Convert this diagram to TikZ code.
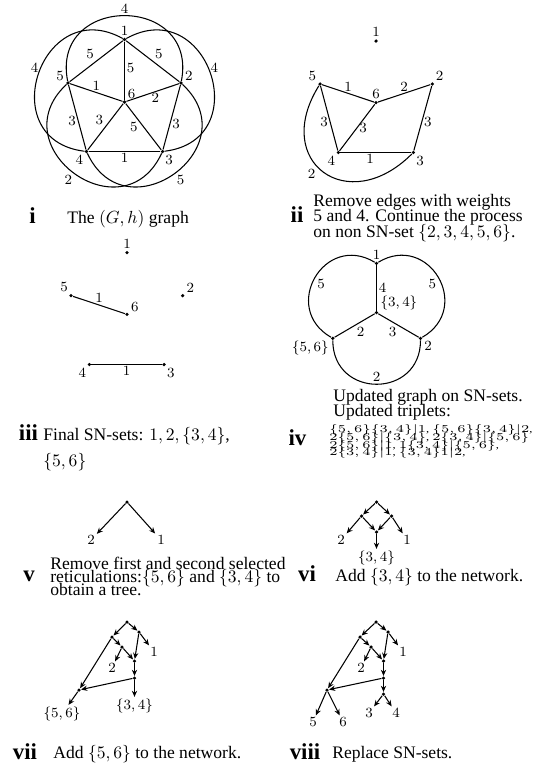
\documentclass[tikz,border=0pt]{standalone}
\usepackage[no-math]{fontspec}
\setmainfont{Liberation Serif}
\usetikzlibrary{arrows.meta}
\newcommand{\capfont}[1]{\fontsize{10}{#1}\selectfont\lineskiplimit=-20pt\relax}

\begin{document}
\begin{tikzpicture}[
x=0.02cm, y=0.02cm,
vtx/.style={circle, fill, inner sep=0pt, minimum size=2pt},
lbl/.style={font=\fontsize{8}{9}\selectfont, inner sep=1pt},
leaf/.style={font=\fontsize{8}{9}\selectfont, inner sep=1pt},
edge/.style={line width=0.6pt},
arr/.style={-{Stealth[length=3.5pt, width=3pt]}, line width=0.6pt},
num/.style={font=\fontsize{13}{15}\selectfont\bfseries, anchor=base, inner sep=0pt},
captxt/.style={font=\capfont{8.8}, align=left, anchor=base west, inner sep=0pt},
trip/.style={font=\fontsize{5.6}{7}\selectfont, anchor=base west, inner sep=0pt},
every label/.style={lbl},
label distance=0pt
]
\useasboundingbox (0,0) rectangle (533,-765);

% i
\node[vtx, label=90:$1$] (a1) at (124.5,-39.5) {};
\node[vtx, label=10:$2$] (a2) at (181,-83) {};
\node[vtx, label=-66:$3$] (a3) at (162.5,-151.5) {};
\node[vtx, label=-128:$4$] (a4) at (86.5,-151.5) {};
\node[vtx, label=175:$5$] (a5) at (68,-83) {};
\node[vtx, label=53:$6$] (a6) at (124.5,-102) {};
\draw[edge] (a1) -- node[lbl, right, pos=.45] {$5$} (a6);
\draw[edge] (a5) -- node[lbl, above left] {$5$} (a1);
\draw[edge] (a1) -- node[lbl, above right] {$5$} (a2);
\draw[edge] (a5) -- node[lbl, above] {$1$} (a6);
\draw[edge] (a6) -- node[lbl, below, pos=.55] {$2$} (a2);
\draw[edge] (a5) -- node[lbl, left, pos=.55] {$3$} (a4);
\draw[edge] (a6) -- node[lbl, above left] {$3$} (a4);
\draw[edge] (a6) -- node[lbl, left=2pt] {$5$} (a3);
\draw[edge] (a2) -- node[lbl, right, pos=.6] {$3$} (a3);
\draw[edge] (a4) -- node[lbl, below] {$1$} (a3);
\draw[edge] (a5) to[out=101, in=79, looseness=2] node[lbl, above] {$4$} (a2);
\draw[edge] (a1) to[out=29, in=7, looseness=2] node[lbl, right, pos=.47] {$4$} (a3);
\draw[edge] (a2) to[out=-43, in=-65, looseness=2] node[lbl, below right] {$5$} (a4);
\draw[edge] (a3) to[out=-115, in=-137, looseness=2] node[lbl, below left] {$2$} (a5);
\draw[edge] (a4) to[out=173, in=151, looseness=2] node[lbl, left, pos=.53] {$4$} (a1);
\node[num] (ni) at (32.5,-223) {i};
\node[captxt] (ci) at (67,-223) {The $(G,h)$ graph};

% ii
\node[vtx, label=90:$1$] (b1) at (376,-41) {};
\node[vtx, label=145:$5$] (b5) at (320,-84) {};
\node[vtx, label=90:$6$] (b6) at (376,-102.7) {};
\node[vtx, label=46:$2$] (b2) at (432.3,-84) {};
\node[vtx, label=-120:$4$] (b4) at (338.3,-152.5) {};
\node[vtx, label=-63:$3$] (b3) at (413.3,-152.5) {};
\draw[edge] (b5) -- node[lbl, above] {$1$} (b6);
\draw[edge] (b6) -- node[lbl, above] {$2$} (b2);
\draw[edge] (b5) -- node[lbl, left, pos=.55] {$3$} (b4);
\draw[edge] (b4) -- node[lbl, right] {$3$} (b6);
\draw[edge] (b2) -- node[lbl, right, pos=.55] {$3$} (b3);
\draw[edge] (b4) -- node[lbl, below, pos=.42] {$1$} (b3);
\draw[edge] (b5) to[out=-122, in=-135, looseness=2] node[lbl, below left, pos=.45] {$2$} (b3);
\node[num] (nii) at (297,-222) {ii};
\node[captxt] (cii) at (313,-237) {Remove edges with weights\\5 and 4. Continue the process\\on non SN-set $\{2,3,4,5,6\}$.};

% iii
\node[vtx, label=90:$1$] (c1) at (127,-252.7) {};
\node[vtx, label=120:$5$] (c5) at (71,-295.7) {};
\node[vtx, label=20:$6$] (c6) at (127,-314.3) {};
\node[vtx, label=30:$2$] (c2) at (182.7,-295.7) {};
\node[vtx, label=-120:$4$] (c4) at (89.3,-364.5) {};
\node[vtx, label=-60:$3$] (c3) at (164,-364.5) {};
\draw[edge] (c5) -- node[lbl, above] {$1$} (c6);
\draw[edge] (c4) -- node[lbl, below] {$1$} (c3);
\node[num] (niii) at (28.5,-440) {iii};
\node[captxt, font=\capfont{15.2}] (ciii) at (43,-466.7) {Final SN-sets: $1,2,\{3,4\}$,\\$\{5,6\}$};

% iv
\node[vtx, label=90:$1$] (d1) at (376.5,-263.3) {};
\node[vtx, label={10:$\{3,4\}$}] (d34) at (376.5,-312.7) {};
\node[vtx, label={-165:$\{5,6\}$}] (d56) at (332.8,-338.3) {};
\node[vtx, label=-30:$2$] (d2) at (420.5,-338.3) {};
\draw[edge] (d1) -- node[lbl, right] {$4$} (d34);
\draw[edge] (d34) -- node[lbl, below right] {$2$} (d56);
\draw[edge] (d34) -- node[lbl, below left] {$3$} (d2);
\draw[edge] (d1) to[out=149, in=150, looseness=1.73] node[lbl, below right] {$5$} (d56);
\draw[edge] (d1) to[out=31, in=30, looseness=1.73] node[lbl, below left] {$5$} (d2);
\draw[edge] (d56) to[out=-90, in=-90, looseness=1.71] node[lbl, above] {$2$} (d2);
\node[num] (niv) at (297.5,-445) {iv};
\node[captxt, font=\capfont{8.5}] (civ) at (333,-416.7) {Updated graph on SN-sets.\\Updated triplets:};
\node[trip] (t1) at (329,-432.6) {\scalebox{1.28}[1]{$\{5,6\}\{3,4\}|1$, $\{5,6\}\{3,4\}|2$,}};
\node[trip] (t2) at (329,-440.3) {\scalebox{1.28}[1]{$2\{5,6\}|\{3,4\}$, $2\{3,4\}|\{5,6\}$}};
\node[trip] (t3) at (329,-448) {\scalebox{1.28}[1]{$2\{5,6\}|1$, $1\{3,4\}|\{5,6\}$,}};
\node[trip] (t4) at (329,-455.7) {\scalebox{1.28}[1]{$2\{3,4\}|1$, $\{3,4\}1|2$,}};

% v
\node[vtx] (v0) at (127,-502) {};
\node[leaf] (v2) at (91,-540) {$2$};
\node[leaf] (v1) at (161,-540) {$1$};
\draw[arr] (v0) -- (v2);
\draw[arr] (v0) -- (v1);
\node[num] (nv) at (29,-581) {v};
\node[captxt, font=\capfont{7.3}] (cv) at (50,-595) {Remove first and second selected\\reticulations:$\{5,6\}$ and $\{3,4\}$ to\\obtain a tree.};

% vi
\node[vtx] (w0) at (376.5,-502) {};
\node[vtx] (wl) at (361.5,-516) {};
\node[vtx] (wr) at (391.5,-516) {};
\node[vtx] (wm) at (376.5,-532) {};
\node[leaf] (w2) at (341,-540) {$2$};
\node[leaf] (w1) at (407,-540) {$1$};
\node[leaf] (w34) at (376.5,-558) {$\{3,4\}$};
\draw[arr] (w0) -- (wl);
\draw[arr] (w0) -- (wr);
\draw[arr] (wl) -- (w2);
\draw[arr] (wl) -- (wm);
\draw[arr] (wr) -- (wm);
\draw[arr] (wr) -- (w1);
\draw[arr] (wm) -- (w34);
\node[num] (nvi) at (307,-581) {vi};
\node[captxt] (cvi) at (335,-581) {Add $\{3,4\}$ to the network.};

% vii
\node[vtx] (x0) at (127,-622) {};
\node[vtx] (xp) at (112,-637) {};
\node[vtx] (xr) at (139,-632) {};
\node[vtx] (xl) at (122,-647) {};
\node[vtx] (xm) at (134.5,-661) {};
\node[vtx] (xq) at (134.5,-678) {};
\node[vtx] (xh) at (79,-690) {};
\node[leaf] (x2) at (112,-668) {$2$};
\node[leaf] (x1) at (154,-652) {$1$};
\node[leaf] (x34) at (134.5,-706) {$\{3,4\}$};
\node[leaf] (x56) at (62,-714) {$\{5,6\}$};
\draw[arr] (x0) -- (xp);
\draw[arr] (x0) -- (xr);
\draw[arr] (xp) -- (xl);
\draw[arr] (xp) -- (xh);
\draw[arr] (xl) -- (x2);
\draw[arr] (xl) -- (xm);
\draw[arr] (xr) -- (xm);
\draw[arr] (xr) -- (x1);
\draw[arr] (xm) -- (xq);
\draw[arr] (xq) -- (x34);
\draw[arr] (xq) -- (xh);
\draw[arr] (xh) -- (x56);
\node[num] (nvii) at (25,-759) {vii};
\node[captxt] (cvii) at (53,-758) {Add $\{5,6\}$ to the network.};

% viii
\node[vtx] (y0) at (376,-622) {};
\node[vtx] (yp) at (360,-637) {};
\node[vtx] (yr) at (388,-632) {};
\node[vtx] (yl) at (371,-647) {};
\node[vtx] (ym) at (383.5,-661) {};
\node[vtx] (yq) at (383.5,-678) {};
\node[vtx] (ys) at (383.5,-694) {};
\node[vtx] (yh) at (327,-690) {};
\node[leaf] (y1) at (403,-652) {$1$};
\node[leaf] (y2) at (361,-668) {$2$};
\node[leaf] (y3) at (369,-713) {$3$};
\node[leaf] (y4) at (396,-713) {$4$};
\node[leaf] (y5) at (313,-722) {$5$};
\node[leaf] (y6) at (343,-722) {$6$};
\draw[arr] (y0) -- (yp);
\draw[arr] (y0) -- (yr);
\draw[arr] (yp) -- (yl);
\draw[arr] (yp) -- (yh);
\draw[arr] (yl) -- (y2);
\draw[arr] (yl) -- (ym);
\draw[arr] (yr) -- (ym);
\draw[arr] (yr) -- (y1);
\draw[arr] (ym) -- (yq);
\draw[arr] (yq) -- (ys);
\draw[arr] (yq) -- (yh);
\draw[arr] (ys) -- (y3);
\draw[arr] (ys) -- (y4);
\draw[arr] (yh) -- (y5);
\draw[arr] (yh) -- (y6);
\node[num] (nviii) at (305,-759) {viii};
\node[captxt] (cviii) at (332,-758) {Replace SN-sets.};
\end{tikzpicture}
\end{document}
